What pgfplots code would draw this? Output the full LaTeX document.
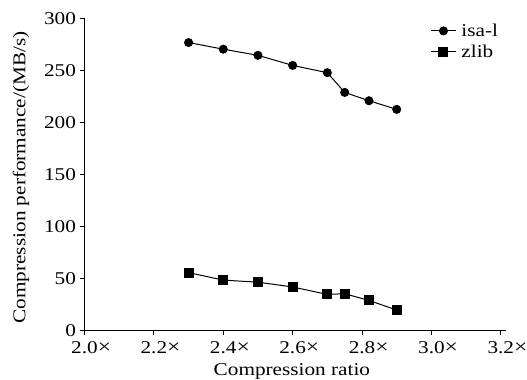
\documentclass[border=0pt]{standalone}
\usepackage{fontspec}
\setmainfont{Liberation Serif}[FakeStretch=1.18]
\usepackage{pgfplots}
\pgfplotsset{compat=1.18}
\newcommand{\tx}{\rlap{\fontsize{20bp}{20bp}\selectfont ×}}
\begin{document}
\begin{tikzpicture}
\path[use as bounding box] (0,0) rectangle (527bp,380bp);
\begin{axis}[
  at={(84.5bp,49.6bp)}, anchor=south west,
  scale only axis, width=421.5bp, height=312.8bp,
  xmin=2.0, xmax=3.215, ymin=0, ymax=301,
  axis x line*=bottom, axis y line*=left,
  axis line style={line width=1pt},
  every tick/.style={black, line width=1pt},
  tick align=outside, major tick length=5bp,
  xtick={2.0,2.2,2.4,2.6,2.8,3.0,3.2},
  xticklabels={2.0\tx,2.2\tx,2.4\tx,2.6\tx,2.8\tx,3.0\tx,3.2\tx},
  xticklabel style={yshift=-3bp},
  ytick={0,50,100,150,200,250,300},
  /pgf/number format/assume math mode=true,
  ticklabel style={font=\fontsize{18bp}{20bp}\selectfont},
  label style={font=\fontsize{18bp}{20bp}\selectfont},
  xlabel={Compression ratio},
  xlabel style={at={(axis description cs:0.492,-0.13)}, anchor=center},
  ylabel={Compression performance/(MB/s)},
  ylabel style={at={(axis description cs:-0.1507,0.489)}, anchor=center},
  legend style={draw=none, fill=none, at={(rel axis cs:0.818,0.99)}, anchor=north west,
    font=\fontsize{18bp}{20bp}\selectfont, row sep=3bp, inner sep=1bp,
    /tikz/every odd column/.append style={column sep=3bp}},
  legend cell align=left,
  legend image code/.code={\draw[mark repeat=2,mark phase=2] plot coordinates {(0bp,0bp) (12.5bp,0bp) (25bp,0bp)};},
]
\addplot[black, line width=1pt, mark=*, mark size=4bp] coordinates {
 (2.30,277) (2.40,270.6) (2.50,264.7) (2.60,255) (2.70,248) (2.75,229) (2.82,221) (2.90,212.7)};
\addlegendentry{isa-l}
\addplot[black, line width=1pt, mark=square*, mark size=4.5bp] coordinates {
 (2.30,55.6) (2.40,48.4) (2.50,46.4) (2.60,41.8) (2.70,34.6) (2.75,35.3) (2.82,28.8) (2.90,19.6)};
\addlegendentry{zlib}
\end{axis}
\end{tikzpicture}
\end{document}
